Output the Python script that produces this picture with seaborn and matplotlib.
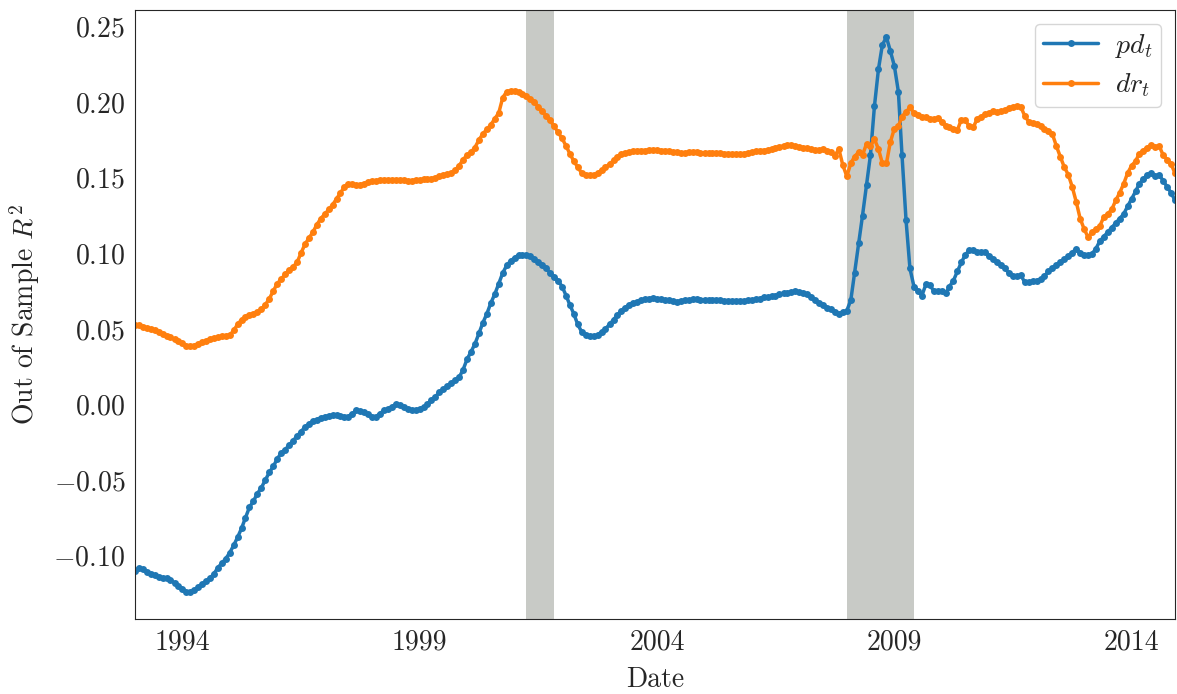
import pandas as pd
import seaborn as sns
import matplotlib.pyplot as plt
import matplotlib.dates as mdates

# Monthly out-of-sample R^2, Jan 1993 - Dec 2014 (one row per year)
pd_r2 = [
    -0.110, -0.108, -0.109, -0.111, -0.112, -0.113, -0.114, -0.115, -0.115, -0.116, -0.118, -0.120,
    -0.122, -0.124, -0.124, -0.123, -0.121, -0.119, -0.117, -0.115, -0.112, -0.108, -0.105, -0.102,
    -0.098, -0.093, -0.088, -0.082, -0.075, -0.068, -0.064, -0.059, -0.055, -0.050, -0.045, -0.041,
    -0.036, -0.032, -0.030, -0.027, -0.024, -0.021, -0.018, -0.015, -0.013, -0.011, -0.010, -0.009,
    -0.008, -0.0075, -0.007, -0.007, -0.0075, -0.008, -0.008, -0.006, -0.004, -0.0045, -0.005, -0.0065,
    -0.008, -0.008, -0.006, -0.004, -0.003, -0.0015, 0.000, -0.0005, -0.002, -0.003, -0.0035, -0.0035,
    -0.003, -0.002, 0.000, 0.003, 0.005, 0.008, 0.010, 0.012, 0.014, 0.016, 0.018, 0.023,
    0.030, 0.035, 0.040, 0.047, 0.054, 0.060, 0.067, 0.073, 0.080, 0.087, 0.092, 0.095,
    0.097, 0.099, 0.099, 0.099, 0.098, 0.096, 0.094, 0.092, 0.090, 0.087, 0.084, 0.082,
    0.078, 0.072, 0.066, 0.060, 0.053, 0.048, 0.046, 0.045, 0.045, 0.046, 0.048, 0.050,
    0.053, 0.056, 0.059, 0.062, 0.064, 0.066, 0.067, 0.068, 0.069, 0.0695, 0.070, 0.0705,
    0.070, 0.0695, 0.069, 0.069, 0.0685, 0.068, 0.0685, 0.069, 0.069, 0.0695, 0.0695, 0.069,
    0.069, 0.069, 0.069, 0.069, 0.069, 0.0685, 0.0685, 0.0685, 0.0685, 0.0685, 0.0685, 0.069,
    0.069, 0.0695, 0.070, 0.071, 0.071, 0.0715, 0.072, 0.073, 0.0735, 0.074, 0.0745, 0.075,
    0.0745, 0.074, 0.073, 0.071, 0.069, 0.067, 0.066, 0.064, 0.063, 0.061, 0.060, 0.061,
    0.062, 0.069, 0.087, 0.1065, 0.125, 0.1455, 0.165, 0.1975, 0.222, 0.238, 0.243, 0.234,
    0.224, 0.207, 0.165, 0.122, 0.090, 0.078, 0.075, 0.072, 0.0795, 0.079, 0.075, 0.075,
    0.075, 0.0735, 0.078, 0.082, 0.088, 0.094, 0.099, 0.102, 0.1025, 0.101, 0.101, 0.101,
    0.098, 0.096, 0.094, 0.092, 0.090, 0.087, 0.085, 0.085, 0.0855, 0.081, 0.081, 0.0815,
    0.082, 0.083, 0.085, 0.088, 0.090, 0.092, 0.094, 0.096, 0.098, 0.1005, 0.103, 0.100,
    0.099, 0.099, 0.0995, 0.103, 0.108, 0.111, 0.114, 0.117, 0.120, 0.123, 0.126, 0.131,
    0.136, 0.141, 0.146, 0.149, 0.152, 0.153, 0.151, 0.152, 0.148, 0.144, 0.140, 0.135,
]

dr_r2 = [
    0.0525, 0.0525, 0.0515, 0.0505, 0.050, 0.049, 0.048, 0.0465, 0.0455, 0.0445, 0.043, 0.042,
    0.0405, 0.039, 0.0385, 0.039, 0.040, 0.041, 0.042, 0.0435, 0.044, 0.0445, 0.045, 0.0455,
    0.046, 0.049, 0.053, 0.056, 0.058, 0.0595, 0.060, 0.061, 0.063, 0.066, 0.070, 0.075,
    0.080, 0.083, 0.086, 0.089, 0.091, 0.094, 0.100, 0.106, 0.110, 0.114, 0.119, 0.123,
    0.126, 0.129, 0.132, 0.136, 0.140, 0.144, 0.146, 0.146, 0.145, 0.1455, 0.146, 0.147,
    0.148, 0.148, 0.1485, 0.1485, 0.1485, 0.1485, 0.1485, 0.1485, 0.1485, 0.148, 0.148, 0.1485,
    0.1485, 0.149, 0.149, 0.1495, 0.150, 0.151, 0.152, 0.1525, 0.153, 0.155, 0.158, 0.162,
    0.165, 0.167, 0.170, 0.175, 0.179, 0.182, 0.185, 0.189, 0.193, 0.203, 0.207, 0.2075,
    0.2075, 0.207, 0.2055, 0.204, 0.202, 0.200, 0.197, 0.194, 0.191, 0.188, 0.184, 0.180,
    0.176, 0.171, 0.166, 0.161, 0.157, 0.153, 0.1515, 0.1515, 0.1515, 0.153, 0.155, 0.157,
    0.159, 0.1615, 0.164, 0.1655, 0.1665, 0.167, 0.1675, 0.168, 0.168, 0.168, 0.1685, 0.1685,
    0.1685, 0.168, 0.168, 0.1675, 0.167, 0.167, 0.1665, 0.1665, 0.167, 0.167, 0.167, 0.1665,
    0.1665, 0.1665, 0.1665, 0.1665, 0.1665, 0.166, 0.166, 0.1655, 0.1655, 0.1655, 0.166, 0.1665,
    0.167, 0.1675, 0.168, 0.168, 0.1685, 0.169, 0.170, 0.1705, 0.171, 0.1715, 0.1715, 0.171,
    0.1705, 0.170, 0.1695, 0.169, 0.1685, 0.1685, 0.169, 0.168, 0.167, 0.1645, 0.169, 0.1585,
    0.151, 0.1595, 0.164, 0.167, 0.165, 0.1725, 0.171, 0.1755, 0.169, 0.1595, 0.1595, 0.1735,
    0.1825, 0.184, 0.1905, 0.1935, 0.1965, 0.193, 0.1915, 0.190, 0.190, 0.189, 0.189, 0.1895,
    0.187, 0.1845, 0.1835, 0.182, 0.1815, 0.1885, 0.188, 0.184, 0.1835, 0.189, 0.1905, 0.192,
    0.193, 0.194, 0.1935, 0.194, 0.1945, 0.196, 0.197, 0.1975, 0.197, 0.191, 0.187, 0.186,
    0.1855, 0.184, 0.1825, 0.181, 0.179, 0.171, 0.164, 0.157, 0.152, 0.144, 0.134, 0.123,
    0.116, 0.1105, 0.114, 0.116, 0.118, 0.124, 0.126, 0.129, 0.135, 0.140, 0.146, 0.153,
    0.158, 0.161, 0.166, 0.168, 0.170, 0.1715, 0.1705, 0.171, 0.165, 0.162, 0.159, 0.153,
]

start_month = "1993-01-01"
# months flagged as recession (first and last flagged month)
recessions = [("2001-04-01", "2001-11-01"), ("2008-01-01", "2009-06-01")]
tick_years = ["1994", "1999", "2004", "2009", "2014"]

dates = pd.date_range(start_month, periods=len(pd_r2), freq="MS")
df = pd.DataFrame({"date": dates, "pd": pd_r2, "dr": dr_r2})

sns.set_style("white")
plt.rcParams["font.family"] = "serif"
plt.rcParams["font.serif"] = ["cmr10"]
plt.rcParams["mathtext.fontset"] = "cm"
plt.rcParams["axes.formatter.use_mathtext"] = True

fig = plt.figure(figsize=(11.77, 6.94), dpi=100)
ax = fig.add_axes([0.1147, 0.108, 0.8836, 0.8776])

# recession bands
for start, end in recessions:
    ax.axvspan(pd.Timestamp(start), pd.Timestamp(end), color="#c8cac6", lw=0, zorder=0)

line_kws = dict(marker="o", markersize=5, markeredgewidth=0, linewidth=2.5)
sns.lineplot(data=df, x="date", y="pd", color="#1f77b4", label="$pd_t$", ax=ax, **line_kws)
sns.lineplot(data=df, x="date", y="dr", color="#ff7f0e", label="$dr_t$", ax=ax, **line_kws)

ax.set_xlim(dates[0], dates[-1])
ax.set_ylim(-0.142, 0.261)
ax.set_xticks([pd.Timestamp(y + "-01-01") for y in tick_years])
ax.xaxis.set_major_formatter(mdates.DateFormatter("%Y"))
ax.tick_params(labelsize=20)

ax.set_xlabel("Date", fontsize=20, labelpad=8)
ax.set_ylabel("Out of Sample $R^2$", fontsize=20, labelpad=8)
ax.legend(loc="upper right", fontsize=20, handlelength=2.0, handletextpad=0.6,
          borderpad=0.3, labelspacing=0.4)

plt.savefig("out.png", dpi=100)
